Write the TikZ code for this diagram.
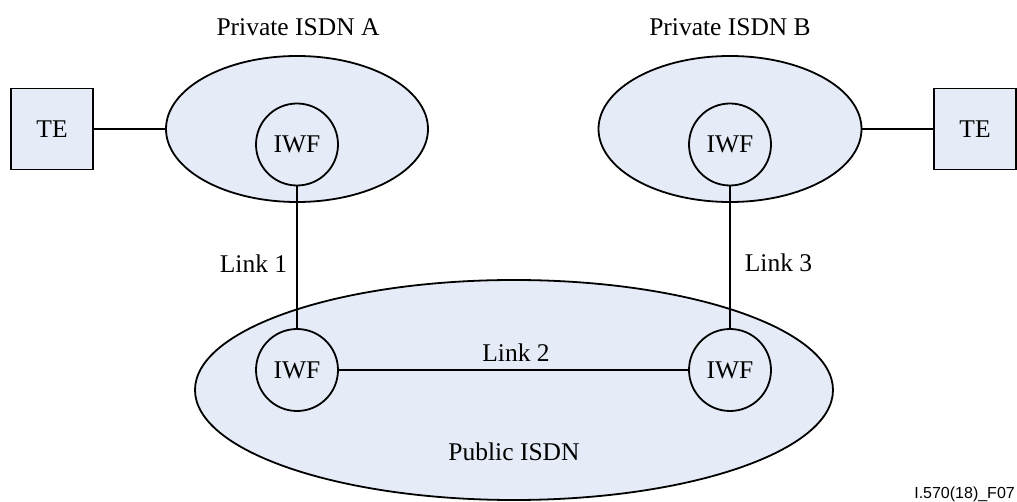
\documentclass[tikz,border=0pt]{standalone}
\usepackage{fontspec}
\setmainfont{Liberation Serif}
\newfontfamily\figidfont{Liberation Sans}
\usetikzlibrary{shapes.geometric}
\definecolor{netfill}{RGB}{229,236,247}
\tikzset{
  x=1pt, y=-1pt,
  lbl/.style={font=\fontsize{25.5}{30}\selectfont, inner sep=0pt},
  net/.style={ellipse, draw=black, line width=1.8pt, fill=netfill, inner sep=0pt},
  iwf/.style={circle, draw=black, line width=1.8pt, fill=netfill, inner sep=0pt, minimum size=82pt, font=\fontsize{25.5}{30}\selectfont},
  tebox/.style={rectangle, draw=black, line width=1.8pt, fill=netfill, inner sep=0pt, minimum width=82pt, minimum height=81pt, font=\fontsize{25.5}{30}\selectfont},
  link/.style={draw=black, line width=1.8pt},
}
\begin{document}
\begin{tikzpicture}
\useasboundingbox (0,0) rectangle (1017,502);
% networks
\node[net, minimum width=262pt, minimum height=146pt] (privA) at (297,129) {};
\node[net, minimum width=263pt, minimum height=146pt] (privB) at (730,129) {};
\node[net, minimum width=638pt, minimum height=220pt] (pub) at (514,390) {};
% terminals
\node[tebox] (teA) at (52,129) {TE};
\node[tebox] (teB) at (975,129) {TE};
% interworking functions
\node[iwf] (iwfA) at (297,144.5) {IWF};
\node[iwf] (iwfB) at (730,144.5) {IWF};
\node[iwf] (iwfL) at (297,370) {IWF};
\node[iwf] (iwfR) at (730,370) {IWF};
% connectors
\draw[link] (teA.east) -- (privA.west);
\draw[link] (privB.east) -- (teB.west);
\draw[link] (iwfA.south) -- (iwfL.north);
\draw[link] (iwfB.south) -- (iwfR.north);
\draw[link] (iwfL.east) -- (iwfR.west);
% labels
\node[lbl, anchor=base] (tA) at (298,36) {Private ISDN A};
\node[lbl, anchor=base] (tB) at (730,36) {Private ISDN B};
\node[lbl, anchor=base] (l1) at (253.5,273) {Link 1};
\node[lbl, anchor=base] (l3) at (778.5,272) {Link 3};
\node[lbl, anchor=base] (l2) at (516,362) {Link 2};
\node[lbl, anchor=base] (tP) at (514,460) {Public ISDN};
\node[anchor=base east, inner sep=0pt, font=\figidfont\fontsize{16}{18}\selectfont] (fid) at (1015,498) {I.570(18)\_F07};
\end{tikzpicture}
\end{document}
